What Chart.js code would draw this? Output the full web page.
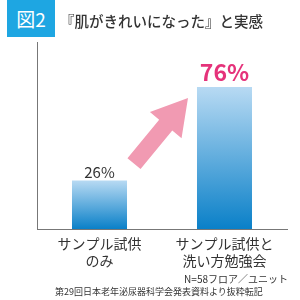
<!DOCTYPE html>
<html><head><meta charset="utf-8">
<script src="https://cdn.jsdelivr.net/npm/chart.js@4/dist/chart.umd.min.js"></script>
<style>
html,body{margin:0;padding:0;background:#fff;}
#wrap{position:relative;width:300px;height:300px;font-family:"Noto Sans CJK JP","Noto Sans",sans-serif;}
#badge{position:absolute;left:7px;top:0;width:48px;height:37px;background:#1ea6e2;color:#fff;font-size:19px;line-height:37px;text-align:center;}
#title{position:absolute;left:60px;top:9px;font-size:14.5px;line-height:24px;color:#333;white-space:nowrap;font-weight:500;}
#n{position:absolute;right:12px;top:271px;font-size:10px;color:#333;white-space:nowrap;}
#src{position:absolute;left:55px;top:285px;font-size:9px;color:#333;white-space:nowrap;}
canvas{position:absolute;left:0;top:0;}
</style></head>
<body><div id="wrap">
<canvas id="c" width="300" height="300"></canvas>
<div id="badge">図2</div>
<div id="title">『肌がきれいになった』と実感</div>
<div id="n">N=58フロア／ユニット</div>
<div id="src">第29回日本老年泌尿器科学会発表資料より抜粋転記</div>
</div>
<script>
const categories = [["サンプル試供","のみ"],["サンプル試供と","洗い方勉強会"]];
const values = [26, 76];
const valueLabels = ["26%", "76%"];

function barGradient(ctx){
  const chart = ctx.chart;
  const ys = chart.scales && chart.scales.y;
  if(!ys || !chart.chartArea || ctx.type !== 'data') return '#4a9ad8';
  const top = ys.getPixelForValue(ctx.raw), bottom = ys.getPixelForValue(0);
  if(!isFinite(top) || !isFinite(bottom) || top === bottom) return '#4a9ad8';
  const g = chart.ctx.createLinearGradient(0, top, 0, bottom);
  g.addColorStop(0, '#b8daf3');
  g.addColorStop(1, '#0a80c8');
  return g;
}

const labelPlugin = {
  id:'labels',
  afterDatasetsDraw(chart){
    const ctx = chart.ctx;
    const meta = chart.getDatasetMeta(0);
    const ys = chart.scales.y, xs = chart.scales.x;
    const tx = xs.getPixelForValue(0.5) - 28, ty = ys.getPixelForValue(35);
    const hx = xs.getPixelForValue(0.5) + 26, hy = ys.getPixelForValue(70);
    const dx = hx - tx, dy = hy - ty, L = Math.hypot(dx, dy);
    const ux = dx / L, uy = dy / L, px = -uy, py = ux;
    const sw = 8.5, hw = 20.5, hl = 35;
    const bx = hx - ux*hl, by = hy - uy*hl;
    ctx.save();
    ctx.fillStyle = '#f19ab2';
    ctx.beginPath();
    ctx.moveTo(tx + px*sw, ty + py*sw);
    ctx.lineTo(bx + px*sw, by + py*sw);
    ctx.lineTo(bx + px*hw, by + py*hw);
    ctx.lineTo(hx, hy);
    ctx.lineTo(bx - px*hw, by - py*hw);
    ctx.lineTo(bx - px*sw, by - py*sw);
    ctx.lineTo(tx - px*sw, ty - py*sw);
    ctx.closePath();
    ctx.fill();
    meta.data.forEach((bar, i) => {
      ctx.textAlign = 'center';
      ctx.textBaseline = 'bottom';
      if(i === 1){
        ctx.fillStyle = '#e5327a';
        ctx.font = 'bold 23px "Noto Sans CJK JP","Noto Sans",sans-serif';
        ctx.fillText(valueLabels[i], bar.x, bar.y - 3);
      } else {
        ctx.fillStyle = '#333';
        ctx.font = '15px "Noto Sans CJK JP","Noto Sans",sans-serif';
        ctx.fillText(valueLabels[i], bar.x, bar.y - 1);
      }
    });
    ctx.restore();
  }
};

new Chart(document.getElementById('c'), {
  type:'bar',
  data:{labels:categories, datasets:[{data:values, backgroundColor:barGradient, borderWidth:0, categoryPercentage:0.9, barPercentage:0.489}]},
  options:{
    responsive:false, animation:false, devicePixelRatio:1,
    layout:{padding:{top:42, left:37, right:13, bottom:29}},
    plugins:{legend:{display:false}, tooltip:{enabled:false}},
    scales:{
      y:{min:0, max:100, grid:{display:false, drawTicks:false}, ticks:{display:false}, border:{display:true, color:'#777', width:1}},
      x:{grid:{display:false, drawTicks:false, tickLength:0}, border:{display:true, color:'#777', width:1},
         afterFit(scale){ scale.height = 42; },
         ticks:{color:'#333', maxRotation:0, minRotation:0, autoSkip:false,
                font:{size:14, family:'"Noto Sans CJK JP","Noto Sans",sans-serif', lineHeight:1.2}, padding:6}}
    }
  },
  plugins:[labelPlugin]
});
</script>
</body></html>
